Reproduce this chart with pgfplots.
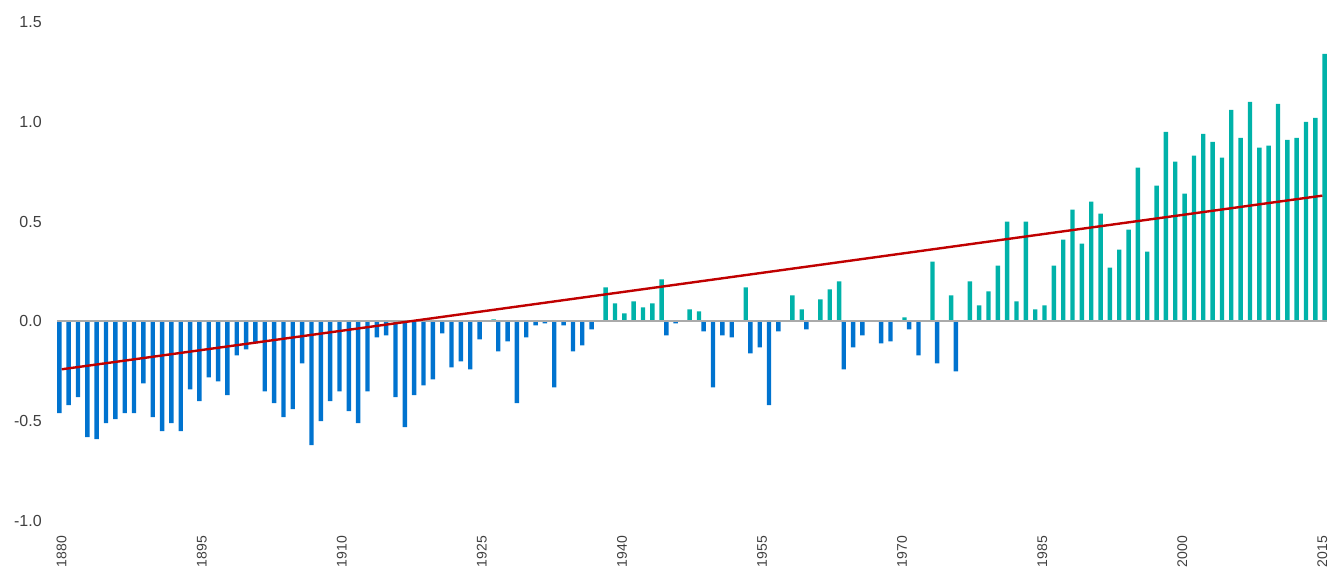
\documentclass[border=0pt]{standalone}
\usepackage{pgfplots}
\pgfplotsset{compat=1.18}
\usepackage{fontspec}
\setmainfont{Liberation Sans}
\definecolor{barblue}{RGB}{0,115,207}
\definecolor{barteal}{RGB}{0,178,169}
\definecolor{trendred}{RGB}{192,0,0}
\definecolor{zerogray}{RGB}{170,170,170}
\definecolor{labelgray}{RGB}{64,64,64}
\begin{document}
\begin{tikzpicture}
\useasboundingbox (-42.75pt,-36.75pt) rectangle (960pt,390.75pt);
\begin{axis}[
  at={(0,0)}, anchor=south west,
  scale only axis,
  width=952.5pt, height=374.25pt,
  xmin=1879.5, xmax=2015.5,
  ymin=-1, ymax=1.5,
  enlargelimits=false,
  axis line style={draw=none},
  tick style={draw=none},
  xtick={1880,1895,1910,1925,1940,1955,1970,1985,2000,2015},
  xticklabels={1880,1895,1910,1925,1940,1955,1970,1985,2000,2015},
  ytick={-1,-0.5,0,0.5,1,1.5},
  yticklabels={-1.0,-0.5,0.0,0.5,1.0,1.5},
  yticklabel style={font=\fontsize{12pt}{14pt}\selectfont, text=labelgray, anchor=east, inner sep=0pt, xshift=-11.25pt},
  xticklabel style={font=\fontsize{10.5pt}{12pt}\selectfont, text=labelgray, rotate=90, anchor=east, inner sep=0pt},
  xticklabel shift=11pt,
  clip=false,
]
% negative anomalies
\addplot[ybar, bar width=0.47, bar shift=-0.25, fill=barblue, draw=none] table {
x y
1880 -0.46
1881 -0.42
1882 -0.38
1883 -0.58
1884 -0.59
1885 -0.51
1886 -0.49
1887 -0.46
1888 -0.46
1889 -0.31
1890 -0.48
1891 -0.55
1892 -0.51
1893 -0.55
1894 -0.34
1895 -0.40
1896 -0.28
1897 -0.30
1898 -0.37
1899 -0.17
1900 -0.14
1901 -0.11
1902 -0.35
1903 -0.41
1904 -0.48
1905 -0.44
1906 -0.21
1907 -0.62
1908 -0.50
1909 -0.40
1910 -0.35
1911 -0.45
1912 -0.51
1913 -0.35
1914 -0.08
1915 -0.07
1916 -0.38
1917 -0.53
1918 -0.37
1919 -0.32
1920 -0.29
1921 -0.06
1922 -0.23
1923 -0.20
1924 -0.24
1925 -0.09
1927 -0.15
1928 -0.10
1929 -0.41
1930 -0.08
1931 -0.02
1932 -0.01
1933 -0.33
1934 -0.02
1935 -0.15
1936 -0.12
1937 -0.04
1945 -0.07
1946 -0.01
1949 -0.05
1950 -0.33
1951 -0.07
1952 -0.08
1954 -0.16
1955 -0.13
1956 -0.42
1957 -0.05
1960 -0.04
1964 -0.24
1965 -0.13
1966 -0.07
1968 -0.11
1969 -0.10
1971 -0.04
1972 -0.17
1974 -0.21
1976 -0.25
};
% positive anomalies
\addplot[ybar, bar width=0.47, bar shift=0.25, fill=barteal, draw=none] table {
x y
1926 0.01
1938 0.17
1939 0.09
1940 0.04
1941 0.10
1942 0.07
1943 0.09
1944 0.21
1947 0.06
1948 0.05
1953 0.17
1958 0.13
1959 0.06
1961 0.11
1962 0.16
1963 0.20
1970 0.02
1973 0.30
1975 0.13
1977 0.20
1978 0.08
1979 0.15
1980 0.28
1981 0.50
1982 0.10
1983 0.50
1984 0.06
1985 0.08
1986 0.28
1987 0.41
1988 0.56
1989 0.39
1990 0.60
1991 0.54
1992 0.27
1993 0.36
1994 0.46
1995 0.77
1996 0.35
1997 0.68
1998 0.95
1999 0.80
2000 0.64
2001 0.83
2002 0.94
2003 0.90
2004 0.82
2005 1.06
2006 0.92
2007 1.10
2008 0.87
2009 0.88
2010 1.09
2011 0.91
2012 0.92
2013 1.00
2014 1.02
2015 1.34
};
% zero line
\addplot[zerogray, line width=1.5pt, forget plot] coordinates {(1879.5,0) (2015.5,0)};
% trend line
\addplot[trendred, line width=1.8pt] coordinates {(1880,-0.24) (2015,0.63)};
\end{axis}
\end{tikzpicture}
\end{document}
